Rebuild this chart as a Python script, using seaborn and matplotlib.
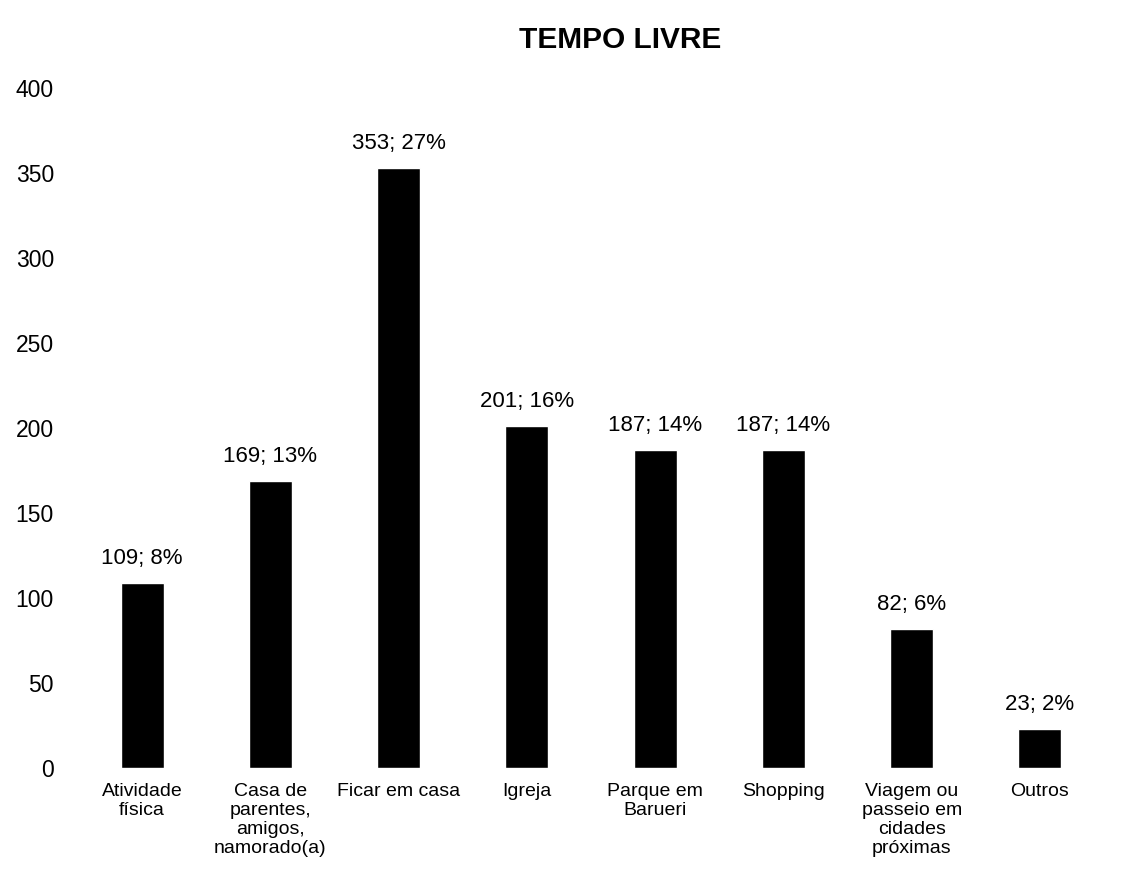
import seaborn as sns
import pandas as pd
import matplotlib.pyplot as plt

# Data
categories = ['Atividade\nfísica', 'Casa de\nparentes,\namigos,\nnamorado(a)', 'Ficar em casa', 'Igreja',
              'Parque em\nBarueri', 'Shopping', 'Viagem ou\npasseio em\ncidades\npróximas', 'Outros']
counts = [109, 169, 353, 201, 187, 187, 82, 23]
percents = [8, 13, 27, 16, 14, 14, 6, 2]
y_ticks = [0, 50, 100, 150, 200, 250, 300, 350, 400]

df = pd.DataFrame({'Categoria': categories, 'Total': counts})

sns.set_theme(style="white")
plt.rcParams['font.family'] = ['Liberation Sans', 'DejaVu Sans']

fig = plt.figure(figsize=(11.42, 8.76), dpi=100)
ax = fig.add_axes([0.057, 0.1233, 0.921, 0.7762])

sns.barplot(x='Categoria', y='Total', data=df, color='black', width=0.335, ax=ax, saturation=1)

# Labels on the bars: "value; pct%"
labels = [f'{c}; {p}%' for c, p in zip(counts, percents)]
ax.bar_label(ax.containers[0], labels=labels, padding=10, fontsize=16, color='black')

ax.set_ylim(0, 400)
ax.set_xlim(-0.6, 7.6)
ax.set_yticks(y_ticks)
ax.set_xlabel('')
ax.set_ylabel('')
ax.tick_params(axis='y', length=0, pad=8, labelsize=16.5, colors='black')
ax.tick_params(axis='x', length=0, pad=11, labelsize=14, colors='black')
for lbl in ax.get_xticklabels():
    lbl.set_linespacing(1.15)
    lbl.set_verticalalignment('top')
sns.despine(ax=ax, left=True, bottom=True)

fig.suptitle('TEMPO LIVRE', x=0.543, y=0.97, fontsize=21.5, fontweight='bold', color='black')

plt.savefig('out.png', dpi=100)
